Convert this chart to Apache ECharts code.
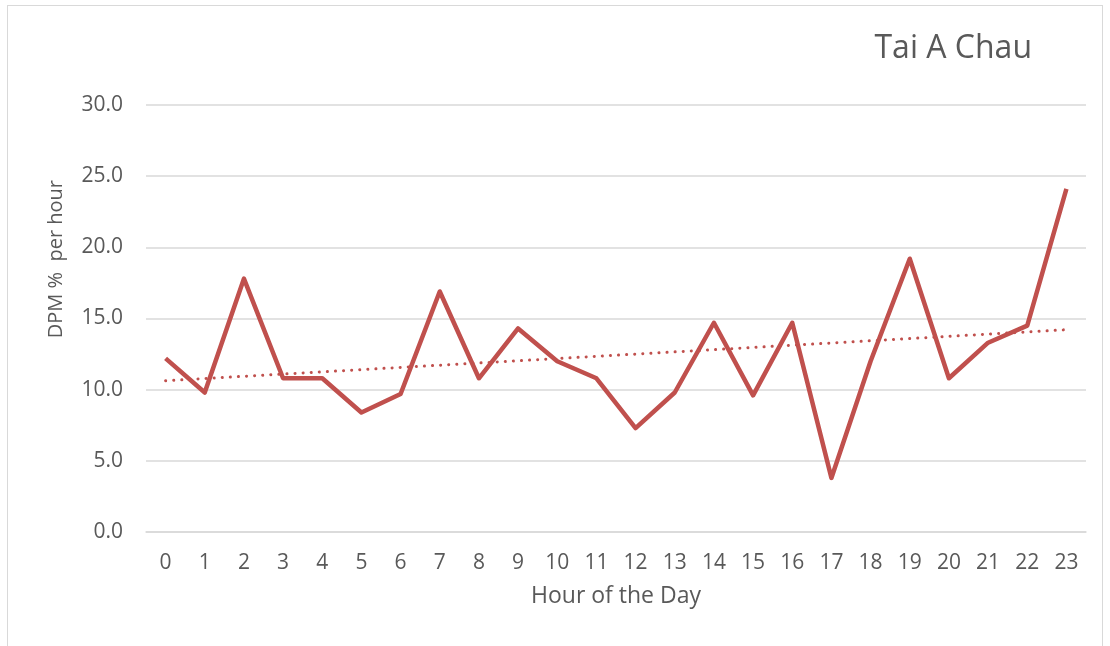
<!DOCTYPE html>
<html>
<head>
<meta charset="utf-8">
<script src="https://cdn.jsdelivr.net/npm/echarts@6/dist/echarts.min.js"></script>
<style>
  html, body { margin: 0; padding: 0; background: #fff; }
  #frame { position: absolute; left: 7px; top: 5px; width: 1096px; height: 660px; border: 1px solid #d9d9d9; box-sizing: border-box; }
  #main { position: absolute; left: 0; top: 0; width: 1110px; height: 646px; }
</style>
</head>
<body>
<div id="frame"></div>
<div id="main"></div>
<script>
var hours = ['0','1','2','3','4','5','6','7','8','9','10','11','12','13','14','15','16','17','18','19','20','21','22','23'];
var dpm = [12.2, 9.8, 17.8, 10.8, 10.8, 8.4, 9.7, 16.9, 10.8, 14.3, 12.0, 10.8,
           7.3, 9.8, 14.7, 9.6, 14.7, 3.8, 12.0, 19.2, 10.8, 13.3, 14.5, 24.1];
var yTicks = [0, 5, 10, 15, 20, 25, 30];

// linear trendline (least squares) like in excel
function trend(vals) {
    var n = vals.length, sx = 0, sy = 0, sxy = 0, sxx = 0;
    for (var i = 0; i < n; i++) {
        sx += i; sy += vals[i]; sxy += i * vals[i]; sxx += i * i;
    }
    var b = (n * sxy - sx * sy) / (n * sxx - sx * sx);
    var a = (sy - b * sx) / n;
    var out = [];
    for (var j = 0; j < n; j++) out.push(+(a + b * j).toFixed(3));
    return out;
}

var font = '"Open Sans", "Liberation Sans", sans-serif';
var grey = '#595959';

var myChart = echarts.init(document.getElementById('main'));
var option = {
    animation: false,
    title: {
        text: 'Tai A Chau',
        right: 73,
        top: 28,
        textStyle: { fontFamily: font, fontSize: 32, fontWeight: 'normal', color: grey }
    },
    grid: { left: 146, right: 24, top: 105, bottom: 114 },
    xAxis: {
        type: 'category',
        data: hours,
        boundaryGap: true,
        name: 'Hour of the Day',
        nameLocation: 'middle',
        nameGap: 53,
        nameTextStyle: { fontFamily: font, fontSize: 23, color: grey },
        axisLine: { lineStyle: { color: '#d9d9d9', width: 1.5 } },
        axisTick: { show: false },
        axisLabel: { fontFamily: font, fontSize: 21, color: grey, margin: 21 }
    },
    yAxis: {
        type: 'value',
        min: yTicks[0],
        max: yTicks[yTicks.length - 1],
        interval: 5,
        axisLine: { show: false },
        axisTick: { show: false },
        splitLine: { lineStyle: { color: '#d9d9d9', width: 1.5 } },
        axisLabel: {
            fontFamily: font, fontSize: 21, color: grey, margin: 23,
            formatter: function (v) { return v.toFixed(1); }
        }
    },
    graphic: [{
        type: 'text',
        left: 46,
        top: 180,
        rotation: Math.PI / 2,
        style: {
            text: 'DPM %  per hour',
            font: '20px ' + font,
            fill: grey
        }
    }],
    series: [{
        name: 'DPM',
        type: 'line',
        data: dpm,
        showSymbol: false,
        lineStyle: { color: '#C0504D', width: 4.5, join: 'round' },
        itemStyle: { color: '#C0504D' },
        z: 3
    }, {
        name: 'Trend',
        type: 'line',
        data: trend(dpm),
        showSymbol: false,
        lineStyle: { color: '#C0504D', width: 3, type: [0.1, 8], cap: 'round' },
        z: 2
    }]
};
myChart.setOption(option);
</script>
</body>
</html>
